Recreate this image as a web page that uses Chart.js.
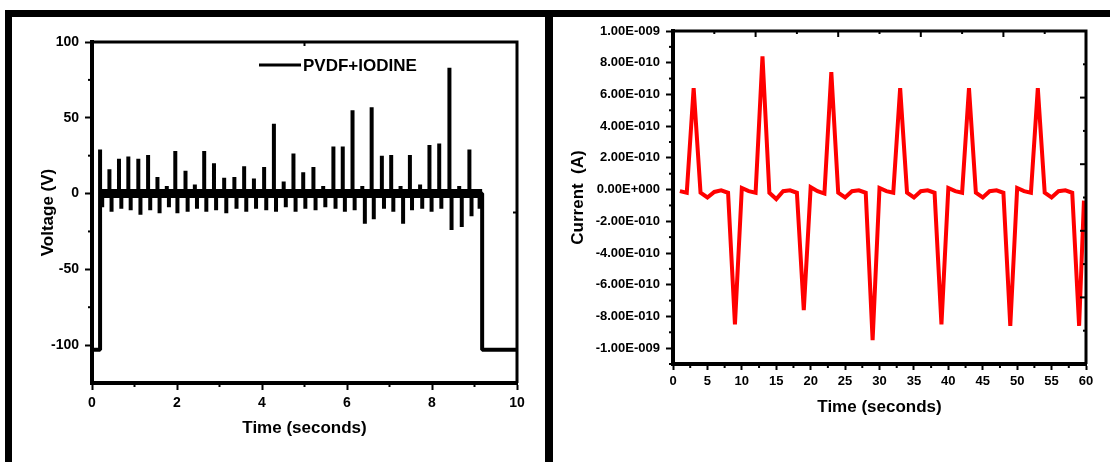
<!DOCTYPE html>
<html><head><meta charset="utf-8">
<script src="https://cdn.jsdelivr.net/npm/chart.js@4.4.1/dist/chart.umd.min.js"></script>
<style>
html,body{margin:0;padding:0;background:#fff;width:1110px;height:462px;overflow:hidden;position:relative}
.bar{position:absolute;background:#000}
canvas{position:absolute}
</style></head><body>
<div class="bar" style="left:5px;top:10px;width:1105px;height:7px"></div>
<div class="bar" style="left:5px;top:10px;width:7px;height:452px"></div>
<div class="bar" style="left:545px;top:10px;width:8px;height:452px"></div>
<canvas id="c1" width="533" height="445" style="left:12px;top:17px;width:533px;height:445px"></canvas>
<canvas id="c2" width="557" height="445" style="left:553px;top:17px;width:557px;height:445px"></canvas>
<script>
// ---------- Left panel: PVDF+IODINE voltage ----------
const voltTicksX = [0, 2, 4, 6, 8, 10];
const voltTicksY = [100, 50, 0, -50, -100];
const voltMinorX = [1, 3, 5, 7, 9];
const voltMinorY = [75, 25, -25, -75];
const offLevel = -103;
const onTime = 0.19;
const offTime = 9.18;
const upTimes = [0.19,0.41,0.635,0.855,1.09,1.32,1.54,1.76,1.96,2.2,2.42,2.64,2.87,3.11,3.35,3.58,3.81,4.05,4.28,4.51,4.74,4.97,5.21,5.44,5.68,5.9,6.13,6.36,6.58,6.82,7.04,7.26,7.48,7.72,7.94,8.17,8.41,8.64,8.88,9.09];
const upVolts = [29,16,23,24.5,23,25.5,11,5,28,15,6,28,20,10.5,11,18,10,17.5,46,8,26.5,14,17.5,5,31,31,55,5,57,25,25.5,5,25.5,6,32,33,83,5,29,3];
const downTimes = [0.24,0.46,0.69,0.91,1.14,1.37,1.59,1.81,2.01,2.25,2.47,2.69,2.92,3.16,3.4,3.63,3.86,4.1,4.33,4.56,4.79,5.02,5.26,5.49,5.73,5.95,6.18,6.42,6.63,6.87,7.09,7.32,7.53,7.77,7.99,8.22,8.46,8.7,8.93,9.12];
const downVolts = [-9,-12,-10,-11,-14,-11,-13,-9,-13,-12,-10,-12,-11,-13,-10,-12,-10,-11,-12,-9,-12,-10,-11,-9,-10,-12,-11,-20,-17,-10,-12,-20,-11,-10,-12,-10,-24,-22,-15,-10];

// ---------- Right panel: current ----------
const currTicksX = [0,5,10,15,20,25,30,35,40,45,50,55,60];
const currMinorX = [2.5,7.5,12.5,17.5,22.5,27.5,32.5,37.5,42.5,47.5,52.5,57.5];
const currTicksY = [1e-9,8e-10,6e-10,4e-10,2e-10,0,-2e-10,-4e-10,-6e-10,-8e-10,-1e-9];
const currMinorY = [9e-10,7e-10,5e-10,3e-10,1e-10,-1e-10,-3e-10,-5e-10,-7e-10,-9e-10,-1.1e-9];
const currTimes = [1,2,3,4,5,6,7,8,9,10,11,12,13,14,15,16,17,18,19,20,21,22,23,24,25,26,27,28,29,30,31,32,33,34,35,36,37,38,39,40,41,42,43,44,45,46,47,48,49,50,51,52,53,54,55,56,57,58,59,59.7];
const currAmps = [
 -1e-11,-2e-11,6.4e-10,-2e-11,-5e-11,-1.5e-11,-5e-12,-2e-11,-8.5e-10,1e-11,
 -1e-11,-2e-11,8.4e-10,-2e-11,-6e-11,-1e-11,-5e-12,-2e-11,-7.6e-10,1.5e-11,
 -1e-11,-2.5e-11,7.4e-10,-2e-11,-5e-11,-1e-11,-5e-12,-2e-11,-9.5e-10,1e-11,
 -1e-11,-2e-11,6.4e-10,-2e-11,-5e-11,-1e-11,-5e-12,-2e-11,-8.5e-10,1e-11,
 -1e-11,-2e-11,6.4e-10,-2e-11,-5e-11,-1e-11,-5e-12,-2e-11,-8.6e-10,1e-11,
 -1e-11,-2e-11,6.4e-10,-2e-11,-5e-11,-1e-11,-5e-12,-2e-11,-8.6e-10,-7e-11
];

const FAM = '"Liberation Sans", Arial, Helvetica, sans-serif';
const tickFontL = {family: FAM, size: 14, weight: 'bold'};
const tickFontR = {family: FAM, size: 13, weight: 'bold'};
const titleFont = {family: FAM, size: 17, weight: 'bold'};

// build trace from the event arrays
const events = [];
upTimes.forEach((t, i) => events.push({x: t, v: upVolts[i]}));
downTimes.forEach((t, i) => events.push({x: t, v: downVolts[i]}));
events.sort((a, b) => a.x - b.x);
const trace = [{x: voltTicksX[0], y: offLevel}, {x: onTime, y: offLevel}, {x: onTime, y: 0}];
events.forEach(e => { trace.push({x: e.x, y: 0}, {x: e.x, y: e.v}, {x: e.x, y: 0}); });
trace.push({x: offTime, y: 0}, {x: offTime, y: offLevel}, {x: voltTicksX[voltTicksX.length - 1], y: offLevel});

const currData = currTimes.map((t, i) => ({x: t, y: currAmps[i]}));

function sci(v) {
  if (Math.abs(v) < 1e-15) return '0.00E+000';
  const s = v.toExponential(2);
  const parts = s.split('e');
  const sign = parts[1][0] === '-' ? '-' : '+';
  const d = parts[1].replace(/[+-]/, '');
  return parts[0] + 'E' + sign + d.padStart(3, '0');
}

const decor = {
  id: 'decor',
  afterDraw(chart, args, o) {
    const {ctx, chartArea: a, scales} = chart;
    ctx.save();
    ctx.strokeStyle = '#000';
    ctx.lineCap = 'butt';
    ctx.lineWidth = o.frameWidth;
    ctx.beginPath();
    ctx.moveTo(a.left, a.top); ctx.lineTo(a.right, a.top); ctx.lineTo(a.right, a.bottom);
    ctx.stroke();
    const seg = (x1, y1, x2, y2) => { ctx.beginPath(); ctx.moveTo(x1, y1); ctx.lineTo(x2, y2); ctx.stroke(); };
    ctx.lineWidth = 2;
    (o.xMinor || []).forEach(v => { const x = scales.x.getPixelForValue(v); seg(x, a.bottom, x, a.bottom + o.minorLen); });
    (o.yMinor || []).forEach(v => { const y = scales.y.getPixelForValue(v); seg(a.left - o.minorLen, y, a.left, y); });
    (o.topMajor || []).forEach(v => { const x = scales.x.getPixelForValue(v); seg(x, a.top, x, a.top + o.innerMajorLen); });
    (o.topMinor || []).forEach(v => { const x = scales.x.getPixelForValue(v); seg(x, a.top, x, a.top + o.innerMinorLen); });
    (o.rightMajor || []).forEach(f => { const y = a.top + f * (a.bottom - a.top); seg(a.right - o.innerMajorLen, y, a.right, y); });
    (o.rightMinor || []).forEach(f => { const y = a.top + f * (a.bottom - a.top); seg(a.right - o.innerMinorLen, y, a.right, y); });
    if (o.legend) {
      const L = o.legend;
      ctx.lineWidth = 3;
      seg(L.x1, L.y, L.x2, L.y);
      ctx.fillStyle = '#000';
      ctx.font = 'bold 17px ' + FAM;
      ctx.textBaseline = 'middle';
      ctx.textAlign = 'left';
      ctx.fillText(L.text, L.x2 + 2, L.y + 1);
    }
    ctx.restore();
  }
};

function axis(opts) {
  return {
    type: 'linear', min: opts.min, max: opts.max,
    afterBuildTicks: s => { s.ticks = opts.ticks.map(v => ({value: v})); },
    afterFit: opts.fit,
    grid: {display: true, drawOnChartArea: false, drawTicks: true, tickLength: opts.tickLen, tickWidth: 2, tickColor: '#000'},
    border: {display: true, color: '#000', width: 4},
    ticks: {color: '#000', font: opts.font, padding: opts.pad, autoSkip: false, maxRotation: 0, callback: opts.fmt},
    title: {display: true, text: opts.title, color: '#000', font: titleFont, padding: opts.titlePad}
  };
}

new Chart(document.getElementById('c1'), {
  type: 'scatter',
  data: {datasets: [
    {label: 'PVDF+IODINE', data: trace, showLine: true, borderColor: '#000', borderWidth: 4, pointRadius: 0, borderJoinStyle: 'bevel', tension: 0},
    {label: 'baseline', data: [{x: onTime, y: 0}, {x: offTime, y: 0}], showLine: true, borderColor: '#000', borderWidth: 9, pointRadius: 0}
  ]},
  options: {
    responsive: false, animation: false, devicePixelRatio: 1,
    layout: {padding: {top: 25, right: 28, left: 0, bottom: 0}},
    plugins: {legend: {display: false}, tooltip: {enabled: false},
      decor: {frameWidth: 3, minorLen: 4, xMinor: voltMinorX, yMinor: voltMinorY,
        topMajor: [5], innerMajorLen: 4, innerMinorLen: 3, rightMajor: [0.5],
        legend: {x1: 247, x2: 289, y: 48, text: 'PVDF+IODINE'}}},
    scales: {
      x: axis({min: 0, max: 10, ticks: voltTicksX, fit: s => { s.height = 79; }, tickLen: 7, pad: 5, font: tickFontL, fmt: v => String(v), title: 'Time (seconds)', titlePad: {top: 0, bottom: 23}}),
      y: axis({min: -125, max: 100, ticks: voltTicksY, fit: s => { s.width = 80; }, tickLen: 7, pad: 6, font: tickFontL, fmt: v => String(v), title: 'Voltage (V)', titlePad: {top: 26, bottom: 0}})
    }
  },
  plugins: [decor]
});

new Chart(document.getElementById('c2'), {
  type: 'scatter',
  data: {datasets: [
    {label: 'Current', data: currData, showLine: true, borderColor: '#ff0000', borderWidth: 4, pointRadius: 0, tension: 0}
  ]},
  options: {
    responsive: false, animation: false, devicePixelRatio: 1,
    layout: {padding: {top: 14, right: 24, left: 0, bottom: 0}},
    plugins: {legend: {display: false}, tooltip: {enabled: false},
      decor: {frameWidth: 3, minorLen: 4, xMinor: currMinorX, yMinor: currMinorY,
        topMajor: [12, 24, 36, 48], topMinor: [6, 18, 30, 42, 54], innerMajorLen: 6, innerMinorLen: 3,
        rightMajor: [0.2, 0.4, 0.6, 0.8], rightMinor: [0.1, 0.3, 0.5, 0.7, 0.9]}},
    scales: {
      x: axis({min: 0, max: 60, ticks: currTicksX, fit: s => { s.height = 98; }, tickLen: 6, pad: 4, font: tickFontR, fmt: v => String(v), title: 'Time (seconds)', titlePad: {top: 0, bottom: 44}}),
      y: axis({min: -1.1e-9, max: 1e-9, ticks: currTicksY, fit: s => { s.width = 120; }, tickLen: 7, pad: 6, font: tickFontR, fmt: v => sci(v), title: 'Current  (A)', titlePad: {top: 15, bottom: 0}})
    }
  },
  plugins: [decor]
});
</script>
</body></html>
